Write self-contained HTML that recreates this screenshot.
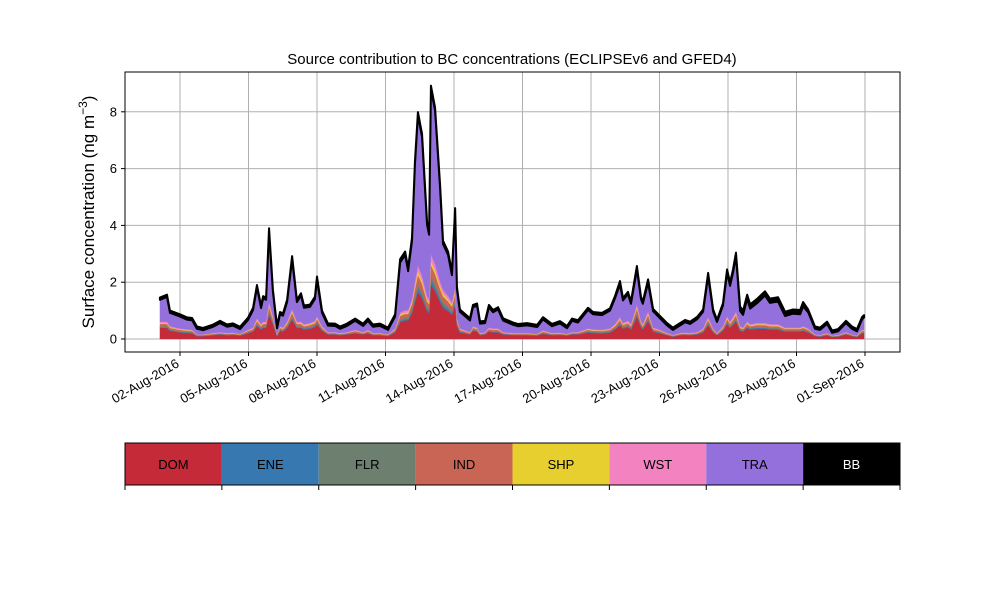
<!DOCTYPE html>
<html><head><meta charset="utf-8"><style>
body{margin:0;background:#fff;}
svg{display:block;font-family:"Liberation Sans","DejaVu Sans",sans-serif;}
</style></head><body>
<svg id="chart" width="1000" height="600" viewBox="0 0 1000 600" xmlns="http://www.w3.org/2000/svg">
<rect x="0" y="0" width="1000" height="600" fill="#fff"/>
<g id="grid"></g><g id="areas"></g><g id="axes"></g><g id="legend"></g>
</svg>
<script>
// days since 01-Aug-2016 00:00
const days=[0.12,0.43,0.56,1.0,1.31,1.53,1.74,2.01,2.45,2.75,3.06,3.32,3.63,3.98,4.2,4.37,4.55,4.64,4.77,4.9,5.07,5.25,5.38,5.51,5.69,5.91,6.12,6.3,6.43,6.69,6.91,7.0,7.22,7.48,7.79,8.01,8.31,8.67,9.02,9.23,9.45,9.76,10.11,10.42,10.64,10.86,10.99,11.16,11.29,11.42,11.6,11.82,11.91,11.99,12.17,12.39,12.52,12.74,12.91,13.05,13.13,13.26,13.7,13.83,14.01,14.14,14.36,14.53,14.71,14.93,15.15,15.59,15.8,16.2,16.64,16.9,17.29,17.64,17.95,18.17,18.43,18.87,19.09,19.48,19.83,20.05,20.27,20.4,20.62,20.75,21.01,21.19,21.27,21.5,21.72,22.02,22.33,22.59,22.9,23.12,23.34,23.65,23.91,24.13,24.35,24.52,24.78,24.96,25.09,25.22,25.35,25.53,25.66,25.84,25.97,26.27,26.62,26.84,27.19,27.5,27.85,28.16,28.29,28.51,28.81,29.03,29.34,29.56,29.82,30.17,30.43,30.65,30.87,30.96];
const dom=[.39,.39,.29,.23,.21,.2,.1,.1,.13,.16,.13,.14,.12,.2,.26,.46,.33,.39,.39,.85,.52,.1,.29,.26,.39,.68,.39,.39,.33,.36,.42,.52,.29,.16,.16,.13,.16,.2,.16,.2,.13,.13,.1,.23,.59,.65,.65,.91,1.3,1.66,1.43,.98,.91,1.92,1.69,1.3,1.1,.98,.85,1.17,.46,.23,.16,.29,.26,.13,.16,.26,.23,.23,.16,.13,.13,.13,.12,.18,.13,.14,.12,.16,.16,.23,.21,.2,.23,.33,.49,.36,.42,.33,.78,.42,.33,.62,.26,.2,.13,.08,.13,.14,.13,.16,.23,.49,.23,.13,.29,.52,.39,.49,.62,.29,.26,.39,.33,.36,.36,.33,.33,.26,.26,.26,.29,.23,.1,.08,.13,.07,.08,.16,.1,.07,.2,.2];
const ene=[.03,.03,.02,.02,.02,.02,.01,.01,.01,.01,.01,.01,.01,.02,.02,.04,.03,.03,.03,.06,.04,.01,.02,.02,.03,.05,.03,.03,.03,.03,.03,.04,.02,.01,.01,.01,.01,.02,.01,.02,.01,.01,.01,.02,.05,.05,.05,.07,.1,.13,.11,.07,.07,.15,.13,.1,.09,.07,.06,.09,.04,.02,.01,.02,.02,.01,.01,.02,.02,.02,.01,.01,.01,.01,.01,.02,.01,.01,.01,.01,.01,.02,.02,.02,.02,.03,.04,.03,.03,.03,.06,.03,.03,.05,.02,.02,.01,.01,.01,.01,.01,.01,.02,.04,.02,.01,.02,.04,.03,.04,.05,.02,.02,.03,.03,.03,.03,.03,.03,.02,.02,.02,.02,.02,.01,.01,.01,.01,.01,.01,.01,.01,.02,.02];
const flr=[.03,.03,.02,.02,.02,.02,.01,.01,.01,.01,.01,.01,.01,.02,.02,.04,.03,.03,.03,.06,.04,.01,.02,.02,.03,.05,.03,.03,.03,.03,.03,.04,.02,.01,.01,.01,.01,.02,.01,.02,.01,.01,.01,.02,.05,.05,.05,.07,.1,.13,.11,.07,.07,.15,.13,.1,.09,.07,.06,.09,.04,.02,.01,.02,.02,.01,.01,.02,.02,.02,.01,.01,.01,.01,.01,.02,.01,.01,.01,.01,.01,.02,.02,.02,.02,.03,.04,.03,.03,.03,.06,.03,.03,.05,.02,.02,.01,.01,.01,.01,.01,.01,.02,.04,.02,.01,.02,.04,.03,.04,.05,.02,.02,.03,.03,.03,.03,.03,.03,.02,.02,.02,.02,.02,.01,.01,.01,.01,.01,.01,.01,.01,.02,.02];
const ind=[.08,.08,.06,.05,.04,.04,.02,.02,.03,.03,.03,.03,.02,.04,.05,.09,.06,.08,.08,.17,.1,.02,.06,.05,.08,.14,.08,.08,.06,.07,.08,.1,.06,.03,.03,.03,.03,.04,.03,.04,.03,.03,.02,.05,.12,.13,.13,.18,.26,.33,.29,.2,.18,.38,.34,.26,.22,.2,.17,.23,.09,.05,.03,.06,.05,.03,.03,.05,.05,.05,.03,.03,.03,.03,.02,.04,.03,.03,.02,.03,.03,.05,.04,.04,.05,.06,.1,.07,.08,.06,.16,.08,.06,.12,.05,.04,.03,.02,.03,.03,.03,.03,.05,.1,.05,.03,.06,.1,.08,.1,.12,.06,.05,.08,.06,.07,.07,.06,.06,.05,.05,.05,.06,.05,.02,.02,.03,.01,.02,.03,.02,.01,.04,.04];
const shp=[.03,.03,.02,.02,.02,.02,.01,.01,.01,.01,.01,.01,.01,.02,.02,.04,.03,.03,.03,.06,.04,.01,.02,.02,.03,.05,.03,.03,.03,.03,.03,.04,.02,.01,.01,.01,.01,.02,.01,.02,.01,.01,.01,.02,.05,.05,.05,.07,.1,.13,.11,.07,.07,.15,.13,.1,.09,.07,.06,.09,.04,.02,.01,.02,.02,.01,.01,.02,.02,.02,.01,.01,.01,.01,.01,.02,.01,.01,.01,.01,.01,.02,.02,.02,.02,.03,.04,.03,.03,.03,.06,.03,.03,.05,.02,.02,.01,.01,.01,.01,.01,.01,.02,.04,.02,.01,.02,.04,.03,.04,.05,.02,.02,.03,.03,.03,.03,.03,.03,.02,.02,.02,.02,.02,.01,.01,.01,.01,.01,.01,.01,.01,.02,.02];
const wst=[.05,.05,.04,.03,.03,.02,.01,.01,.02,.02,.02,.02,.01,.02,.03,.06,.04,.05,.05,.1,.06,.01,.04,.03,.05,.08,.05,.05,.04,.04,.05,.06,.04,.02,.02,.02,.02,.02,.02,.02,.02,.02,.01,.03,.07,.08,.08,.11,.16,.2,.18,.12,.11,.24,.21,.16,.14,.12,.1,.14,.06,.03,.02,.04,.03,.02,.02,.03,.03,.03,.02,.02,.02,.02,.01,.02,.02,.02,.01,.02,.02,.03,.03,.02,.03,.04,.06,.04,.05,.04,.1,.05,.04,.08,.03,.02,.02,.01,.02,.02,.02,.02,.03,.06,.03,.02,.04,.06,.05,.06,.08,.04,.03,.05,.04,.04,.04,.04,.04,.03,.03,.03,.04,.03,.01,.01,.02,.01,.01,.02,.01,.01,.02,.02];
const tra=[.77,.87,.47,.42,.34,.34,.2,.15,.22,.32,.22,.25,.17,.35,.62,1.09,.57,.82,.77,2.48,.85,.22,.42,.42,.69,1.75,.69,.92,.58,.57,.77,1.28,.47,.23,.22,.15,.22,.32,.22,.32,.22,.25,.16,.42,1.76,1.95,1.38,2.03,4.12,5.29,4.88,2.51,2.26,5.81,5.41,3.3,1.61,1.45,.95,2.68,1.02,.59,.41,.67,.77,.33,.32,.72,.57,.67,.41,.29,.24,.27,.24,.39,.24,.33,.2,.4,.34,.65,.53,.52,.63,.91,1.15,.8,.94,.72,1.23,.76,.72,1.01,.58,.41,.27,.18,.27,.37,.32,.46,.59,1.44,.59,.39,.73,1.53,1.26,1.56,1.95,.54,.45,.8,.55,.7,.97,.75,.8,.41,.49,.47,.7,.57,.2,.18,.32,.1,.13,.32,.2,.15,.37,.44];
const bb=[.08,.08,.08,.08,.08,.08,.08,.08,.08,.08,.08,.08,.08,.08,.08,.08,.08,.08,.08,.12,.08,.08,.08,.08,.08,.12,.08,.08,.08,.08,.08,.12,.08,.08,.08,.08,.08,.08,.08,.08,.08,.08,.08,.08,.12,.12,.12,.12,.12,.12,.12,.12,.12,.12,.12,.12,.12,.12,.12,.12,.08,.08,.08,.08,.08,.08,.08,.08,.08,.08,.08,.08,.08,.08,.08,.08,.08,.08,.08,.08,.08,.08,.08,.08,.08,.08,.12,.08,.08,.08,.12,.08,.08,.12,.08,.08,.08,.08,.08,.08,.08,.08,.08,.12,.08,.08,.08,.12,.12,.12,.12,.15,.15,.15,.15,.15,.15,.15,.15,.15,.15,.15,.15,.1,.08,.08,.08,.08,.08,.08,.08,.08,.08,.08];
const seriesNames=["DOM","ENE","FLR","IND","SHP","WST","TRA","BB"];
const seriesColors=["#c52a38","#3878b0","#6d8070","#c86555","#e6cf2e","#f283c0","#9370db","#000000"];
const yTicks=[0,2,4,6,8];
const xTickDays=[1,4,7,10,13,16,19,22,25,28,31];
const xTickLabels=["02-Aug-2016","05-Aug-2016","08-Aug-2016","11-Aug-2016","14-Aug-2016","17-Aug-2016","20-Aug-2016","23-Aug-2016","26-Aug-2016","29-Aug-2016","01-Sep-2016"];

const NS="http://www.w3.org/2000/svg";
const L=125,R=900,T=72,B=352;
const xs=d=>180+(d-1)*22.833;
const ys=v=>339-v*28.4;
function mk(tag,attrs,parent){const e=document.createElementNS(NS,tag);for(const k in attrs)e.setAttribute(k,attrs[k]);parent.appendChild(e);return e;}
const grid=document.getElementById('grid'),areas=document.getElementById('areas'),axes=document.getElementById('axes'),leg=document.getElementById('legend');

yTicks.forEach(v=>{const l=mk('line',{x1:L,x2:R,y1:ys(v),y2:ys(v),stroke:'#b0b0b0','stroke-width':1},grid);

});
xTickDays.forEach(d=>{const l=mk('line',{x1:xs(d),x2:xs(d),y1:T,y2:B,stroke:'#b0b0b0','stroke-width':1},grid);

});

const all=[dom,ene,flr,ind,shp,wst,tra,bb];
let base=days.map(()=>0);
all.forEach((s,i)=>{
  const top=base.map((b,j)=>b+s[j]);
  let d='M'+days.map((t,j)=>xs(t).toFixed(2)+','+ys(top[j]).toFixed(2)).join(' L');
  for(let j=days.length-1;j>=0;j--)d+=' L'+xs(days[j]).toFixed(2)+','+ys(base[j]).toFixed(2);
  d+='Z';
  const p=mk('path',{d:d,fill:seriesColors[i],stroke:seriesColors[i],'stroke-width':i===7?2:0.3,'stroke-linejoin':'round'},areas);
  
  
  base=top;
});

const fr=mk('rect',{x:L,y:T,width:R-L,height:B-T,fill:'none',stroke:'#000','stroke-width':1},axes);


yTicks.forEach(v=>{
  mk('line',{x1:L-4,x2:L,y1:ys(v),y2:ys(v),stroke:'#000'},axes);
  const t=mk('text',{x:L-8,y:ys(v)+4.5,'text-anchor':'end','font-size':13},axes);t.textContent=v;
  
  
});
xTickDays.forEach((d,i)=>{
  const x=xs(d);
  mk('line',{x1:x,x2:x,y1:B,y2:B+4,stroke:'#000'},axes);
  const t=mk('text',{x:x,y:B+14,'text-anchor':'end','font-size':13,transform:`rotate(-30 ${x} ${B+14})`},axes);
  t.textContent=xTickLabels[i];
  
  
});
const ti=mk('text',{x:512,y:64,'text-anchor':'middle','font-size':15},axes);
ti.textContent='Source contribution to BC concentrations (ECLIPSEv6 and GFED4)';


const yl=mk('text',{x:94,y:212,'text-anchor':'middle','font-size':17,transform:'rotate(-90 94 212)'},axes);
yl.innerHTML='Surface concentration (ng m<tspan dy="-7" font-size="12">−3</tspan><tspan dy="7">)</tspan>';



const w=(R-L)/8;
seriesNames.forEach((n,i)=>{
  const g=mk('g',{},leg);
  
  
  mk('rect',{x:L+i*w,y:443,width:w,height:42,fill:seriesColors[i]},g);
  const t=mk('text',{x:L+i*w+w/2,y:469,'text-anchor':'middle','font-size':13,fill:n==='BB'?'#fff':'#000'},g);
  t.textContent=n;
});
mk('rect',{x:L,y:443,width:R-L,height:42,fill:'none',stroke:'#000','stroke-width':1},leg);
for(let i=0;i<=8;i++)mk('line',{x1:L+i*w,x2:L+i*w,y1:485,y2:490,stroke:'#000'},leg);
</script>
</body></html>
